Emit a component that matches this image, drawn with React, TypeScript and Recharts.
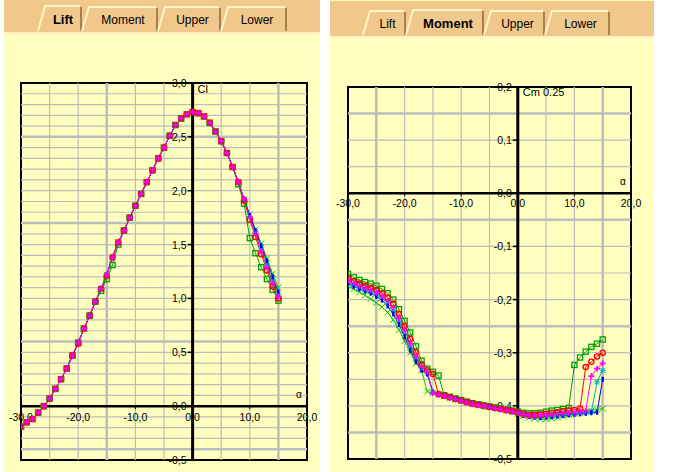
import React from "react";
import { LineChart, Line, XAxis, YAxis, ReferenceLine, ReferenceDot, ReferenceArea } from "recharts";

const alpha = [
  -30, -29, -28, -27, -26, -25, -24, -23, -22, -21, -20, -19, -18, -17, -16, -15,
  -14, -13, -12, -11, -10, -9, -8, -7, -6, -5, -4, -3, -2, -1, 0,
  1, 2, 3, 4, 5, 6, 7, 8, 9, 10, 11, 12, 13, 14, 15,
];

// lift coefficient per series
const clGreenSq = [-0.19, -0.15, -0.12, -0.06, 0.0, 0.07, 0.16, 0.25, 0.35, 0.47, 0.59, 0.72, 0.84, 0.97, 1.07, 1.18, 1.31, 1.5, 1.63, 1.75, 1.86, 1.97, 2.08, 2.19, 2.3, 2.4, 2.51, 2.61, 2.67, 2.71, 2.73, 2.72, 2.69, 2.63, 2.55, 2.46, 2.35, 2.22, 2.06, 1.88, 1.56, 1.42, 1.29, 1.18, 1.08, 0.98];
const clRed = [-0.19, -0.15, -0.12, -0.06, 0.0, 0.07, 0.16, 0.25, 0.35, 0.47, 0.58, 0.72, 0.84, 0.97, 1.09, 1.21, 1.38, 1.52, 1.63, 1.75, 1.86, 1.97, 2.08, 2.19, 2.3, 2.4, 2.51, 2.61, 2.67, 2.71, 2.73, 2.72, 2.69, 2.63, 2.55, 2.46, 2.35, 2.22, 2.08, 1.91, 1.73, 1.57, 1.41, 1.26, 1.11, 1.0];
const clMagenta = [-0.19, -0.15, -0.12, -0.06, 0.0, 0.07, 0.16, 0.25, 0.35, 0.47, 0.59, 0.72, 0.84, 0.97, 1.09, 1.22, 1.38, 1.52, 1.63, 1.75, 1.86, 1.97, 2.08, 2.19, 2.3, 2.4, 2.51, 2.61, 2.67, 2.71, 2.73, 2.72, 2.69, 2.63, 2.55, 2.46, 2.35, 2.22, 2.08, 1.92, 1.75, 1.6, 1.44, 1.29, 1.14, 1.02];
const clCyan = [-0.19, -0.15, -0.12, -0.06, 0.0, 0.07, 0.16, 0.25, 0.35, 0.47, 0.59, 0.72, 0.84, 0.97, 1.09, 1.22, 1.38, 1.52, 1.63, 1.75, 1.86, 1.97, 2.08, 2.19, 2.3, 2.4, 2.51, 2.61, 2.67, 2.71, 2.73, 2.72, 2.69, 2.63, 2.55, 2.46, 2.35, 2.22, 2.08, 1.92, 1.76, 1.62, 1.47, 1.32, 1.17, 1.04];
const clBlue = [-0.19, -0.15, -0.12, -0.06, 0.0, 0.07, 0.16, 0.25, 0.35, 0.47, 0.59, 0.72, 0.84, 0.97, 1.09, 1.22, 1.39, 1.52, 1.63, 1.75, 1.86, 1.97, 2.08, 2.19, 2.3, 2.4, 2.51, 2.61, 2.67, 2.71, 2.73, 2.72, 2.69, 2.63, 2.55, 2.46, 2.35, 2.22, 2.08, 1.92, 1.77, 1.63, 1.49, 1.35, 1.2, 1.06];
const clGreenX = [-0.19, -0.15, -0.12, -0.06, 0.0, 0.07, 0.16, 0.25, 0.35, 0.47, 0.59, 0.72, 0.84, 0.97, 1.09, 1.22, 1.38, 1.52, 1.63, 1.75, 1.86, 1.97, 2.08, 2.19, 2.3, 2.4, 2.51, 2.61, 2.67, 2.71, 2.73, 2.72, 2.69, 2.63, 2.55, 2.46, 2.35, 2.22, 2.08, 1.92, 1.78, 1.64, 1.51, 1.37, 1.23, 1.1];

// moment coefficient (c/4) per series
const cmGreenSq = [-0.152, -0.158, -0.163, -0.167, -0.17, -0.174, -0.18, -0.188, -0.2, -0.218, -0.24, -0.262, -0.288, -0.315, -0.33, -0.336, -0.343, -0.38, -0.383, -0.386, -0.389, -0.392, -0.395, -0.397, -0.399, -0.401, -0.403, -0.405, -0.407, -0.409, -0.411, -0.413, -0.414, -0.414, -0.413, -0.411, -0.409, -0.408, -0.406, -0.404, -0.323, -0.309, -0.298, -0.289, -0.283, -0.275];
const cmRed = [-0.16, -0.165, -0.17, -0.174, -0.178, -0.182, -0.188, -0.196, -0.208, -0.227, -0.25, -0.274, -0.299, -0.322, -0.333, -0.34, -0.378, -0.381, -0.384, -0.387, -0.39, -0.393, -0.396, -0.398, -0.4, -0.402, -0.404, -0.406, -0.408, -0.41, -0.412, -0.415, -0.417, -0.417, -0.416, -0.415, -0.413, -0.412, -0.41, -0.409, -0.408, -0.405, -0.327, -0.317, -0.307, -0.3];
const cmMagenta = [-0.164, -0.169, -0.174, -0.178, -0.182, -0.187, -0.193, -0.202, -0.215, -0.235, -0.258, -0.283, -0.307, -0.327, -0.336, -0.376, -0.379, -0.382, -0.385, -0.388, -0.391, -0.394, -0.397, -0.399, -0.401, -0.403, -0.405, -0.407, -0.409, -0.411, -0.413, -0.416, -0.418, -0.419, -0.418, -0.417, -0.416, -0.415, -0.414, -0.413, -0.412, -0.411, -0.409, -0.344, -0.33, -0.32];
const cmCyan = [-0.167, -0.172, -0.177, -0.181, -0.185, -0.19, -0.197, -0.207, -0.221, -0.241, -0.264, -0.289, -0.312, -0.33, -0.338, -0.375, -0.378, -0.381, -0.384, -0.387, -0.39, -0.393, -0.396, -0.398, -0.4, -0.402, -0.404, -0.406, -0.408, -0.41, -0.413, -0.417, -0.419, -0.42, -0.42, -0.419, -0.418, -0.417, -0.416, -0.415, -0.414, -0.413, -0.412, -0.411, -0.355, -0.333];
const cmBlue = [-0.17, -0.175, -0.18, -0.184, -0.188, -0.194, -0.201, -0.212, -0.227, -0.247, -0.27, -0.295, -0.317, -0.333, -0.34, -0.374, -0.377, -0.38, -0.383, -0.386, -0.389, -0.392, -0.395, -0.397, -0.399, -0.401, -0.403, -0.405, -0.407, -0.41, -0.413, -0.418, -0.42, -0.421, -0.422, -0.421, -0.42, -0.419, -0.418, -0.417, -0.416, -0.415, -0.414, -0.413, -0.412, -0.35];
const cmGreenX = [-0.175, -0.18, -0.186, -0.192, -0.199, -0.206, -0.214, -0.224, -0.238, -0.257, -0.278, -0.3, -0.32, -0.333, -0.373, -0.376, -0.379, -0.382, -0.385, -0.388, -0.391, -0.394, -0.396, -0.398, -0.4, -0.402, -0.404, -0.406, -0.409, -0.412, -0.415, -0.419, -0.422, -0.424, -0.425, -0.425, -0.424, -0.422, -0.42, -0.417, -0.415, -0.413, -0.411, -0.409, -0.407, -0.405];

const xLabelTicks = [-30, -20, -10, 0, 10, 20];
const xLabels = ["-30,0", "-20,0", "-10,0", "0,0", "10,0", "20,0"];
const liftYTicks = [3, 2.5, 2, 1.5, 1, 0.5, 0, -0.5];
const liftYLabels = ["3,0", "2,5", "2,0", "1,5", "1,0", "0,5", "0,0", "-0,5"];
const momentYTicks = [0.2, 0.1, 0, -0.1, -0.2, -0.3, -0.4, -0.5];
const momentYLabels = ["0,2", "0,1", "0,0", "-0,1", "-0,2", "-0,3", "-0,4", "-0,5"];

const gridX = [-25, -20, -15, -10, -5, 5, 10, 15];
const liftGridY = [-0.4, -0.3, -0.2, -0.1, 0.1, 0.2, 0.3, 0.4, 0.5, 0.6, 0.7, 0.8, 0.9, 1.0, 1.1, 1.2, 1.3, 1.4, 1.5, 1.6, 1.7, 1.8, 1.9, 2.0, 2.1, 2.2, 2.3, 2.4, 2.5, 2.6, 2.7, 2.8, 2.9];
const liftThickX = [-15, 15];
const liftThickY = [-0.4, 0.6, 1.7, 2.5];
const momentGridY = [0.15, 0.1, 0.05, -0.05, -0.1, -0.15, -0.2, -0.25, -0.3, -0.35, -0.4, -0.45];
const momentThickX = [-25, 15];
const momentThickY = [0.15, -0.05, -0.25, -0.45];

const tabNames = ["Lift", "Moment", "Upper", "Lower"];

// drawing order: last one ends up on top
const series = [
  { key: "gx", color: "#10C010", marker: "cross" },
  { key: "gs", color: "#00A000", marker: "square" },
  { key: "c", color: "#00B0B0", marker: "star" },
  { key: "b", color: "#0000FF", marker: "bar" },
  { key: "r", color: "#FF0000", marker: "circle" },
  { key: "m", color: "#FF00FF", marker: "plus" },
];

const liftRows = alpha.map((a, i) => ({
  a, gs: clGreenSq[i], r: clRed[i], m: clMagenta[i], c: clCyan[i], b: clBlue[i], gx: clGreenX[i],
}));
const momentRows = alpha.map((a, i) => ({
  a, gs: cmGreenSq[i], r: cmRed[i], m: cmMagenta[i], c: cmCyan[i], b: cmBlue[i], gx: cmGreenX[i],
}));

const FONT = "'Liberation Sans', Arial, sans-serif";
const YELLOW = "#FFFFC0";
const TAN = "#F0C88C";
const GRID = "#BDBDBD";

function marker(kind: string, color: string) {
  return (p: any) => {
    const { cx, cy, index } = p;
    if (cx == null || cy == null) return <g key={index} />;
    const s = 2.6;
    if (kind === "square")
      return <rect key={index} x={cx - s} y={cy - s} width={2 * s} height={2 * s} fill="none" stroke={color} strokeWidth={1.3} />;
    if (kind === "circle")
      return <circle key={index} cx={cx} cy={cy} r={s} fill="none" stroke={color} strokeWidth={1.4} />;
    if (kind === "plus")
      return <path key={index} d={`M${cx - 3},${cy}H${cx + 3}M${cx},${cy - 3}V${cy + 3}`} stroke={color} strokeWidth={1.6} />;
    if (kind === "star")
      return <path key={index} d={`M${cx - 3},${cy}H${cx + 3}M${cx},${cy - 3}V${cy + 3}M${cx - 2.5},${cy - 2.5}L${cx + 2.5},${cy + 2.5}M${cx - 2.5},${cy + 2.5}L${cx + 2.5},${cy - 2.5}`} stroke={color} strokeWidth={1} />;
    if (kind === "bar")
      return <rect key={index} x={cx - 1.2} y={cy - 2.5} width={2.4} height={5} fill={color} />;
    return <path key={index} d={`M${cx - 3},${cy - 3}L${cx + 3},${cy + 3}M${cx - 3},${cy + 3}L${cx + 3},${cy - 3}`} stroke={color} strokeWidth={1} />;
  };
}

function TabBar({ left, top, height, tabs, active, tabTop, tabBottom, width }: any) {
  return (
    <svg style={{ position: "absolute", left, top, overflow: "visible" }} width={width} height={height}>
      <rect x={0} y={0} width={width} height={height} fill={TAN} />
      {tabs.map((t: any, i: number) => {
        const isActive = i === active;
        const y0 = isActive ? tabTop - 1 : tabTop;
        const slant = 7;
        return (
          <g key={tabNames[i]}>
            <polygon points={`${t[0]},${tabBottom} ${t[0] + slant},${y0} ${t[1]},${y0} ${t[1]},${tabBottom}`} fill={TAN} />
            <polyline points={`${t[0]},${tabBottom} ${t[0] + slant},${y0} ${t[1] - 2},${y0}`} fill="none" stroke="#FFF6C8" strokeWidth={2} />
            <line x1={t[1] - 1} x2={t[1] - 1} y1={y0 + 1} y2={tabBottom} stroke="#A8804C" strokeWidth={2} />
            <text x={(t[0] + t[1]) / 2 + 3} y={tabBottom - 7} textAnchor="middle" fontFamily={FONT}
              fontSize={isActive ? 13 : 12} fontWeight={isActive ? 700 : 400} fill="#000">{tabNames[i]}</text>
          </g>
        );
      })}
      <line x1={0} x2={width} y1={height - 1} y2={height - 1} stroke="#FFF0C0" strokeWidth={2} />
    </svg>
  );
}

function xTickShape(label: string, dy: number) {
  return (p: any) => (
    <g>
      <line x1={p.cx} x2={p.cx} y1={p.cy} y2={p.cy + 3} stroke="#000" strokeWidth={1} />
      <text x={p.cx} y={p.cy + dy} textAnchor="middle" fontFamily={FONT} fontSize={10.5} fill="#000">{label}</text>
    </g>
  );
}

function yTickShape(label: string) {
  return (p: any) => (
    <g>
      <line x1={p.cx - 5} x2={p.cx} y1={p.cy} y2={p.cy} stroke="#000" strokeWidth={1.5} />
      <text x={p.cx - 6} y={p.cy + 4} textAnchor="end" fontFamily={FONT} fontSize={10.5} fill="#000">{label}</text>
    </g>
  );
}

function textShape(label: string, dx: number, dy: number, size: number) {
  return (p: any) => (
    <text x={p.cx + dx} y={p.cy + dy} fontFamily={FONT} fontSize={size} fill="#000">{label}</text>
  );
}

function Polar({ rows, width, height, margin, yDomain, yTicks, yLabels, gridY, thickX, thickY, xDy, title, titlePos }: any) {
  return (
    <LineChart width={width} height={height} data={rows} margin={margin}>
      <XAxis dataKey="a" type="number" domain={[-30, 20]} allowDataOverflow hide />
      <YAxis type="number" domain={yDomain} allowDataOverflow hide />
      {gridX.map((v) => (
        <ReferenceLine key={`gx${v}`} x={v} stroke={GRID} strokeWidth={thickX.includes(v) ? 2.5 : 1.2} />
      ))}
      {gridY.map((v: number) => (
        <ReferenceLine key={`gy${v}`} y={v} stroke={GRID} strokeWidth={thickY.includes(v) ? 2.5 : 1.2} />
      ))}
      <ReferenceArea x1={-30} x2={20} y1={yDomain[0]} y2={yDomain[1]} fill="none" fillOpacity={0} stroke="#000" strokeWidth={2} />
      <ReferenceLine x={0} stroke="#000" strokeWidth={3} />
      <ReferenceLine y={0} stroke="#000" strokeWidth={2.5} />
      {xLabelTicks.map((v, i) => (
        <ReferenceDot key={`xl${v}`} x={v} y={0} r={0} shape={xTickShape(xLabels[i], xDy)} />
      ))}
      {yTicks.map((v: number, i: number) => (
        <ReferenceDot key={`yl${v}`} x={0} y={v} r={0} shape={yTickShape(yLabels[i])} />
      ))}
      <ReferenceDot x={0} y={yDomain[1]} r={0} shape={textShape(title, 5, titlePos, 11)} />
      <ReferenceDot x={20} y={0} r={0} shape={textShape("α", -11, -8, 10)} />
      {series.map((s) => (
        <Line key={s.key} dataKey={s.key} stroke={s.color} strokeWidth={1} dot={marker(s.marker, s.color)}
          activeDot={false} isAnimationActive={false} />
      ))}
    </LineChart>
  );
}

export default function App() {
  return (
    <div style={{ position: "absolute", left: 0, top: 0, width: 680, height: 472, background: "#FFFFFF", overflow: "hidden" }}>
      <div style={{ position: "absolute", left: 4, top: 0, width: 316, height: 472, background: YELLOW }} />
      <div style={{ position: "absolute", left: 330, top: 0, width: 324, height: 472, background: YELLOW }} />
      <TabBar left={4} top={0} width={316} height={34} tabTop={7} tabBottom={31} active={0}
        tabs={[[34, 78], [78, 154], [154, 217], [217, 283]]} />
      <TabBar left={330} top={1} width={324} height={37} tabTop={10} tabBottom={34} active={1}
        tabs={[[33, 76], [76, 154], [154, 215], [215, 280]]} />
      <div style={{ position: "absolute", left: 0, top: 0 }}>
        <Polar rows={liftRows} width={330} height={472} margin={{ top: 83, right: 23, bottom: 12, left: 21 }}
          yDomain={[-0.5, 3]} yTicks={liftYTicks} yLabels={liftYLabels} gridY={liftGridY}
          thickX={liftThickX} thickY={liftThickY} xDy={15} title="Cl" titlePos={10} />
      </div>
      <div style={{ position: "absolute", left: 330, top: 0 }}>
        <Polar rows={momentRows} width={350} height={472} margin={{ top: 87, right: 49, bottom: 13, left: 18 }}
          yDomain={[-0.5, 0.2]} yTicks={momentYTicks} yLabels={momentYLabels} gridY={momentGridY}
          thickX={momentThickX} thickY={momentThickY} xDy={14} title="Cm 0.25" titlePos={9} />
      </div>
    </div>
  );
}
